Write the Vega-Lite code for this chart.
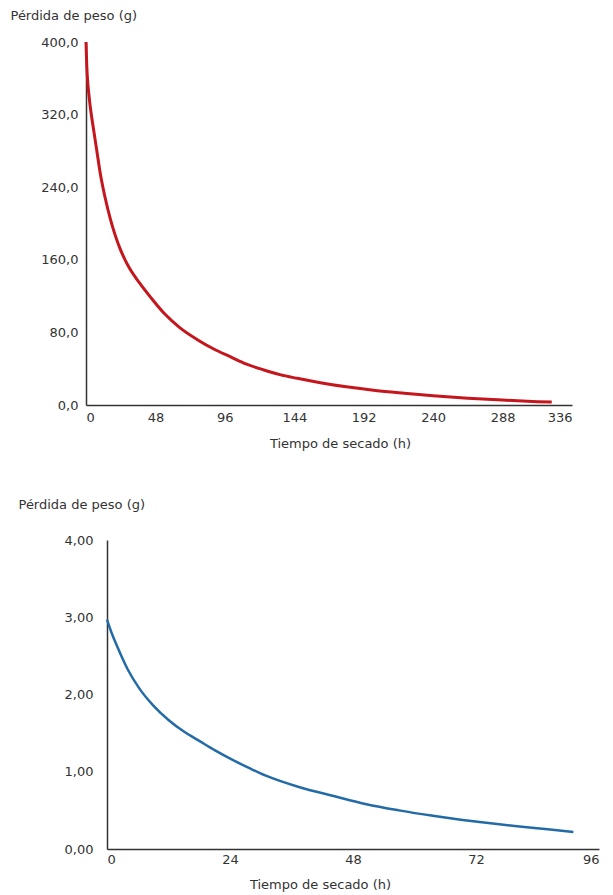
{
  "$schema": "https://vega.github.io/schema/vega-lite/v6.json",
  "padding": {"left": 10, "top": 9, "right": 5, "bottom": 5},
  "spacing": 48,
  "background": "white",
  "config": {
    "view": {"stroke": null},
    "axis": {
      "labelFont": "DejaVu Sans", "titleFont": "DejaVu Sans",
      "labelFontSize": 13, "titleFontSize": 13,
      "labelColor": "#333333", "titleColor": "#333333",
      "titleFontWeight": "normal", "grid": false, "ticks": false,
      "domainColor": "#333333", "domainWidth": 1.5
    }
  },
  "vconcat": [
    {
      "width": 486,
      "height": 363,
      "data": {"values": [
        {"t": 0, "v": 400}, {"t": 0.5, "v": 375}, {"t": 1, "v": 360}, {"t": 2, "v": 342},
        {"t": 3, "v": 328}, {"t": 5, "v": 306}, {"t": 7.4, "v": 281}, {"t": 10, "v": 254},
        {"t": 13, "v": 230}, {"t": 17, "v": 204}, {"t": 20, "v": 188}, {"t": 23.6, "v": 172},
        {"t": 27, "v": 160}, {"t": 30, "v": 151}, {"t": 37, "v": 134.5}, {"t": 45, "v": 118},
        {"t": 54, "v": 101}, {"t": 65, "v": 85}, {"t": 77, "v": 72}, {"t": 88, "v": 62},
        {"t": 100, "v": 53}, {"t": 111, "v": 45}, {"t": 123, "v": 38.6}, {"t": 134, "v": 33.5},
        {"t": 146, "v": 29.4}, {"t": 162, "v": 24.6}, {"t": 180, "v": 20}, {"t": 200, "v": 16},
        {"t": 220, "v": 13}, {"t": 240, "v": 10.3}, {"t": 264, "v": 7.5}, {"t": 288, "v": 5.4},
        {"t": 312, "v": 3.7}, {"t": 322, "v": 3.2}
      ]},
      "mark": {"type": "line", "interpolate": "monotone", "color": "#c4161c", "strokeWidth": 3},
      "encoding": {
        "x": {
          "field": "t", "type": "quantitative",
          "scale": {"domain": [0, 336], "nice": false},
          "axis": {
            "values": [0, 48, 96, 144, 192, 240, 288, 336],
            "title": "Tiempo de secado (h)",
            "titleX": 254, "titleY": 38, "titleAlign": "center", "titleBaseline": "middle",
            "labelPadding": 6
          }
        },
        "y": {
          "field": "v", "type": "quantitative",
          "scale": {"domain": [0, 400], "nice": false},
          "axis": {
            "values": [0, 80, 160, 240, 320, 400],
            "labelExpr": "replace(format(datum.value, '.1f'), '.', ',')",
            "title": "Pérdida de peso (g)",
            "titleAngle": 0, "titleX": -76, "titleY": -27,
            "titleAlign": "left", "titleBaseline": "middle",
            "labelPadding": 8
          }
        }
      }
    },
    {
      "width": 513,
      "height": 309,
      "data": {"values": [
        {"t": 0, "v": 2.97}, {"t": 1, "v": 2.78}, {"t": 2, "v": 2.62}, {"t": 4, "v": 2.33},
        {"t": 6.4, "v": 2.07}, {"t": 9, "v": 1.86}, {"t": 12, "v": 1.67}, {"t": 15, "v": 1.52},
        {"t": 18, "v": 1.40}, {"t": 21, "v": 1.28}, {"t": 24.6, "v": 1.15}, {"t": 28, "v": 1.04},
        {"t": 31, "v": 0.95}, {"t": 37.6, "v": 0.80}, {"t": 44, "v": 0.69}, {"t": 50.6, "v": 0.58},
        {"t": 57, "v": 0.50}, {"t": 63.6, "v": 0.43}, {"t": 69, "v": 0.38}, {"t": 74, "v": 0.34},
        {"t": 80, "v": 0.295}, {"t": 86, "v": 0.255}, {"t": 91, "v": 0.22}
      ]},
      "mark": {"type": "line", "interpolate": "monotone", "color": "#236ba6", "strokeWidth": 2.5},
      "encoding": {
        "x": {
          "field": "t", "type": "quantitative",
          "scale": {"domain": [0, 96], "nice": false, "range": [21, 513]},
          "axis": {
            "values": [0, 24, 48, 72, 96],
            "title": "Tiempo de secado (h)",
            "titleX": 234, "titleY": 35, "titleAlign": "center", "titleBaseline": "middle",
            "labelPadding": 4
          }
        },
        "y": {
          "field": "v", "type": "quantitative",
          "scale": {"domain": [0, 4], "nice": false},
          "axis": {
            "values": [0, 1, 2, 3, 4],
            "offset": -21,
            "labelExpr": "replace(format(datum.value, '.2f'), '.', ',')",
            "title": "Pérdida de peso (g)",
            "titleAngle": 0, "titleX": -89, "titleY": -36,
            "titleAlign": "left", "titleBaseline": "middle",
            "labelPadding": 14
          }
        }
      }
    }
  ]
}
